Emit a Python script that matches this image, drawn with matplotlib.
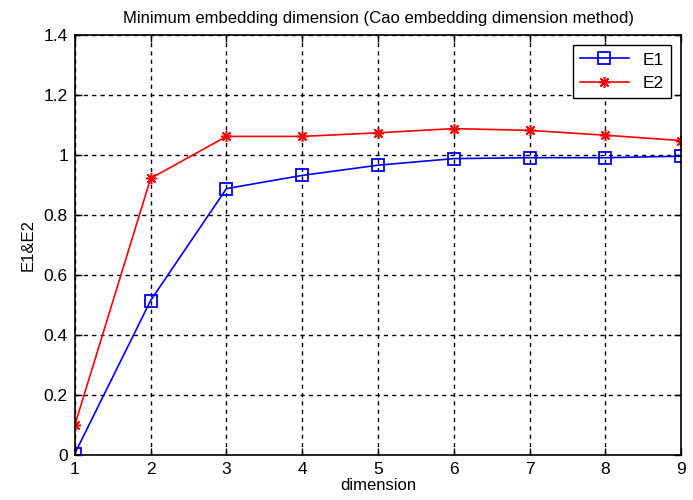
import matplotlib.pyplot as plt
import numpy as np

# Donnees
dimension = [1, 2, 3, 4, 5, 6, 7, 8, 9]
E1 = [0.005, 0.515, 0.888, 0.932, 0.966, 0.988, 0.991, 0.991, 0.996]
E2 = [0.10, 0.922, 1.062, 1.062, 1.074, 1.088, 1.082, 1.066, 1.048]

plt.rcParams['font.family'] = ['Liberation Sans', 'DejaVu Sans']

fig = plt.figure(figsize=(6.93, 5.0), dpi=100)
ax = fig.add_axes([0.108, 0.09, 0.875, 0.84])

ax.plot(dimension, E1, color='blue', marker='s', markersize=8, markerfacecolor='none',
        markeredgewidth=1.3, linewidth=1.2, label='E1')
ax.plot(dimension, E2, color='red', marker=(8, 2, 0), markersize=8, markeredgewidth=1.1,
        linewidth=1.2, label='E2')

ax.set_xlim(1, 9)
ax.set_ylim(0, 1.4)
ax.set_xticks(dimension)
ax.set_yticks(np.arange(0, 1.41, 0.2))
ax.set_yticklabels(['0', '0.2', '0.4', '0.6', '0.8', '1', '1.2', '1.4'])

ax.grid(True, color='black', linestyle=(0, (3, 3)), linewidth=1.0)
ax.tick_params(direction='in', top=True, right=True, labelsize=12.5, length=5, width=1, pad=5)
for s in ax.spines.values():
    s.set_linewidth(1.2)

ax.set_title('Minimum embedding dimension (Cao embedding dimension method)', fontsize=12, pad=9)
ax.set_xlabel('dimension', fontsize=12, labelpad=1)
ax.set_ylabel('E1&E2', fontsize=12, labelpad=6)

leg = ax.legend(loc='upper right', fontsize=12.5, fancybox=False, edgecolor='black',
                framealpha=1, borderaxespad=0.6, handlelength=2.8)
leg.get_frame().set_linewidth(1.0)

fig.savefig('out.png', dpi=100)
